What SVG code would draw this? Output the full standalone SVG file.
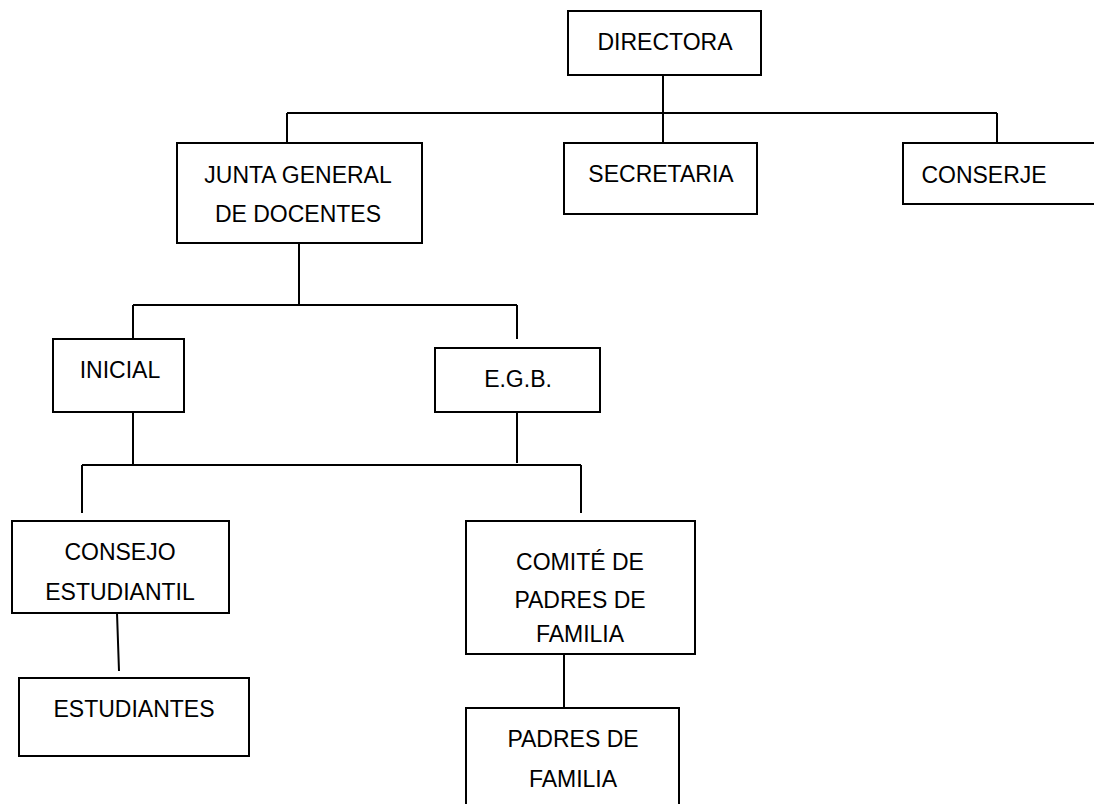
<svg xmlns="http://www.w3.org/2000/svg" width="1094" height="804" viewBox="0 0 1094 804">
<style>
.box{fill:#fff;stroke:#000;stroke-width:2}
.ln{fill:none;stroke:#000;stroke-width:2}
text{font-family:"Liberation Sans",Arial,sans-serif;font-size:23px;fill:#000;text-anchor:middle}
</style>
<rect width="1094" height="804" fill="#fff"/>
<g id="connectors">
<path class="ln" d="M663 75V143M287 113H997M287 113V143M997 113V143"/>
<path class="ln" d="M299 243V305M133 305H517M133 305V339M517 305V339"/>
<path class="ln" d="M133 412V465M517 412V463M82 465H581M82 465V513M581 465V513"/>
<path class="ln" d="M117 613L119 671M564 654V708"/>
</g>
<g id="directora"><rect class="box" x="568" y="11" width="193" height="64"/><text x="665" y="50">DIRECTORA</text></g>
<g id="junta"><rect class="box" x="177" y="143" width="245" height="100"/><text x="298" y="183">JUNTA GENERAL</text><text x="298" y="222">DE DOCENTES</text></g>
<g id="secretaria"><rect class="box" x="564" y="143" width="193" height="71"/><text x="661" y="182">SECRETARIA</text></g>
<g id="conserje"><rect class="box" x="903" y="143" width="220" height="61"/><text x="984" y="183">CONSERJE</text></g>
<g id="inicial"><rect class="box" x="53" y="339" width="131" height="73"/><text x="120" y="378">INICIAL</text></g>
<g id="egb"><rect class="box" x="435" y="348" width="165" height="64"/><text x="518" y="387">E.G.B.</text></g>
<g id="consejo"><rect class="box" x="12" y="521" width="217" height="92"/><text x="120" y="560">CONSEJO</text><text x="120" y="600">ESTUDIANTIL</text></g>
<g id="estudiantes"><rect class="box" x="19" y="678" width="230" height="78"/><text x="134" y="717">ESTUDIANTES</text></g>
<g id="comite"><rect class="box" x="466" y="521" width="229" height="133"/><text x="580" y="570">COMITÉ DE</text><text x="580" y="608">PADRES DE</text><text x="580" y="642">FAMILIA</text></g>
<g id="padres"><rect class="box" x="466" y="708" width="213" height="120"/><text x="573" y="747">PADRES DE</text><text x="573" y="787">FAMILIA</text></g>
</svg>
